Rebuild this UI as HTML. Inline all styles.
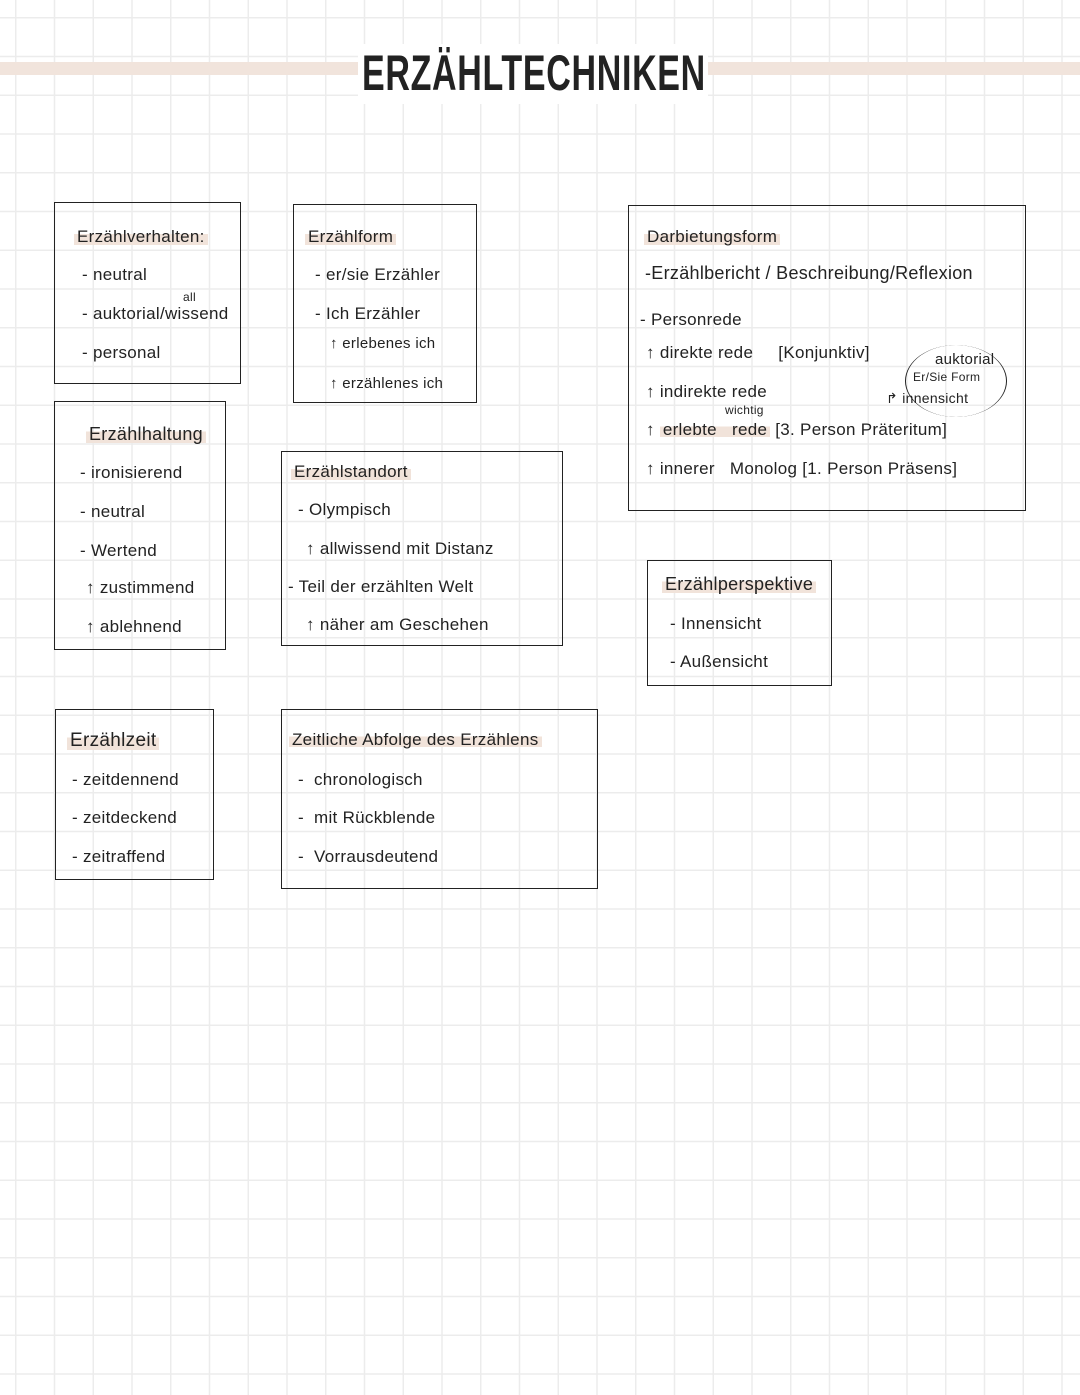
<!DOCTYPE html>
<html><head><meta charset="utf-8"><style>
html,body{margin:0;padding:0}
body{width:1080px;height:1395px;position:relative;overflow:hidden;background-color:#fff;
background-image:linear-gradient(to right,#ececec 1.5px,transparent 1.5px),linear-gradient(to bottom,#ececec 1.5px,transparent 1.5px);
background-size:38.75px 38.75px;background-position:15px 17px;font-family:"Liberation Sans",sans-serif;color:#222}
.b{position:absolute;border:1.6px solid #222;background:transparent}
.t{position:absolute;font-size:17px;white-space:nowrap;letter-spacing:0.3px}
.h{background:linear-gradient(to bottom,transparent 35%,#f1e3da 35%,#f1e3da 90%,transparent 90%);padding:0 3px}
.s{font-size:12px}
</style></head><body>
<div style="position:absolute;left:0;top:62px;width:1080px;height:13px;background:#f1e4dc"></div>
<div style="position:absolute;left:358px;top:44px;width:350px;height:60px;background:#fff"></div>
<div class="t" style="left:362px;top:44px;font-size:50px;font-weight:bold;letter-spacing:1px;transform:scaleX(0.68);transform-origin:left">ERZÄHLTECHNIKEN</div>

<div class="b" style="left:54px;top:202px;width:185px;height:180px"></div>
<div class="t h" style="left:74px;top:227px">Erzählverhalten:</div>
<div class="t" style="left:82px;top:265px">- neutral</div>
<div class="t" style="left:82px;top:304px">- auktorial/wissend</div>
<div class="t s" style="left:183px;top:290px">all</div>
<div class="t" style="left:82px;top:343px">- personal</div>

<div class="b" style="left:293px;top:204px;width:182px;height:197px"></div>
<div class="t h" style="left:305px;top:227px">Erzählform</div>
<div class="t" style="left:315px;top:265px">- er/sie Erzähler</div>
<div class="t" style="left:315px;top:304px">- Ich Erzähler</div>
<div class="t" style="left:330px;top:335px;font-size:15px">↑ erlebenes ich</div>
<div class="t" style="left:330px;top:375px;font-size:15px">↑ erzählenes ich</div>

<div class="b" style="left:628px;top:205px;width:396px;height:304px"></div>
<div class="t h" style="left:644px;top:227px">Darbietungsform</div>
<div class="t" style="left:645px;top:263px;font-size:18px">-Erzählbericht / Beschreibung/Reflexion</div>
<div class="t" style="left:640px;top:310px">- Personrede</div>
<div class="t" style="left:646px;top:343px">↑ direkte rede&nbsp;&nbsp;&nbsp;&nbsp;&nbsp;[Konjunktiv]</div>
<div class="t" style="left:646px;top:382px">↑ indirekte rede</div>
<div class="t s" style="left:725px;top:403px">wichtig</div>
<div class="t" style="left:646px;top:420px">↑ <span class="h">erlebte&nbsp;&nbsp;&nbsp;rede</span> [3. Person Präteritum]</div>
<div class="t" style="left:646px;top:459px">↑ innerer&nbsp;&nbsp;&nbsp;Monolog [1. Person Präsens]</div>
<div class="t" style="left:935px;top:351px;font-size:15px">auktorial</div>
<div class="t s" style="left:913px;top:370px">Er/Sie Form</div>
<div class="t" style="left:886px;top:390px;font-size:14px">↱ innensicht</div>
<div style="position:absolute;left:905px;top:345px;width:100px;height:72px;border-left:1.5px solid #222;border-right:1.5px solid #222;border-radius:50%/50%"></div>

<div class="b" style="left:54px;top:401px;width:170px;height:247px"></div>
<div class="t h" style="left:86px;top:424px;font-size:18px">Erzählhaltung</div>
<div class="t" style="left:80px;top:463px">- ironisierend</div>
<div class="t" style="left:80px;top:502px">- neutral</div>
<div class="t" style="left:80px;top:541px">- Wertend</div>
<div class="t" style="left:86px;top:578px">↑ zustimmend</div>
<div class="t" style="left:86px;top:617px">↑ ablehnend</div>

<div class="b" style="left:281px;top:451px;width:280px;height:193px"></div>
<div class="t h" style="left:291px;top:462px">Erzählstandort</div>
<div class="t" style="left:298px;top:500px">- Olympisch</div>
<div class="t" style="left:306px;top:539px">↑ allwissend mit Distanz</div>
<div class="t" style="left:288px;top:577px">- Teil der erzählten Welt</div>
<div class="t" style="left:306px;top:615px">↑ näher am Geschehen</div>

<div class="b" style="left:647px;top:560px;width:183px;height:124px"></div>
<div class="t h" style="left:662px;top:574px;font-size:18px">Erzählperspektive</div>
<div class="t" style="left:670px;top:614px">- Innensicht</div>
<div class="t" style="left:670px;top:652px">- Außensicht</div>

<div class="b" style="left:55px;top:709px;width:157px;height:169px"></div>
<div class="t h" style="left:67px;top:730px;font-size:19px">Erzählzeit</div>
<div class="t" style="left:72px;top:770px">- zeitdennend</div>
<div class="t" style="left:72px;top:808px">- zeitdeckend</div>
<div class="t" style="left:72px;top:847px">- zeitraffend</div>

<div class="b" style="left:281px;top:709px;width:315px;height:178px"></div>
<div class="t" style="left:289px;top:730px"><span class="h">Zeitliche Abfolge des Erzählens</span></div>
<div class="t" style="left:298px;top:770px">- &nbsp;chronologisch</div>
<div class="t" style="left:298px;top:808px">- &nbsp;mit Rückblende</div>
<div class="t" style="left:298px;top:847px">- &nbsp;Vorrausdeutend</div>
</body></html>
